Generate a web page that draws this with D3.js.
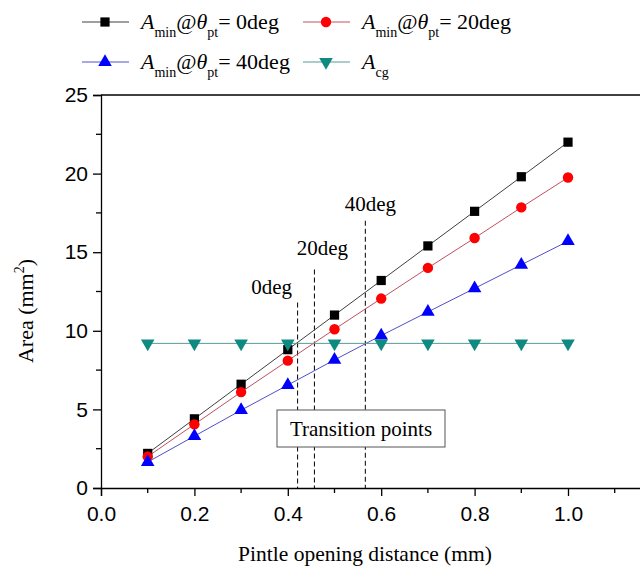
<!DOCTYPE html>
<html>
<head>
<meta charset="utf-8">
<script src="https://cdn.jsdelivr.net/npm/d3@7"></script>
<style>
  body { margin: 0; background: #fff; }
  svg { display: block; font-family: "Liberation Serif", "Times New Roman", serif; }
</style>
</head>
<body>
<div id="chart"></div>
<script>
// Chart data
const xValues = [0.1, 0.2, 0.3, 0.4, 0.5, 0.6, 0.7, 0.8, 0.9, 1.0];
const amin0 = [2.2, 4.4, 6.6, 8.8, 11.0, 13.2, 15.4, 17.6, 19.8, 22.0];
const amin20 = [2.0, 4.05, 6.1, 8.1, 10.1, 12.05, 14.0, 15.9, 17.85, 19.75];
const amin40 = [1.65, 3.3, 4.95, 6.55, 8.15, 9.7, 11.2, 12.7, 14.2, 15.7];
const acg = [9.2, 9.2, 9.2, 9.2, 9.2, 9.2, 9.2, 9.2, 9.2, 9.2];
const xTicks = [0, 0.2, 0.4, 0.6, 0.8, 1.0];
const yTicks = [0, 5, 10, 15, 20, 25];
const transitionX = [0.421, 0.457, 0.566];
const transitionTop = [11.8, 13.9, 17.0];
const transitionLabels = ['0deg', '20deg', '40deg'];

function initChart() {
  const width = 640, height = 577;
  const svg = d3.select('#chart').append('svg')
    .attr('width', width)
    .attr('height', height);

  const x = d3.scaleLinear().domain([0, 1.2]).range([101, 101 + 467 * 1.2]);
  const y = d3.scaleLinear().domain([0, 25]).range([488, 95]);

  // Series definitions
  const series = [
    { name: '0deg', values: amin0, line: '#404040', fill: '#000', shape: d3.symbolSquare, size: 85 },
    { name: '20deg', values: amin20, line: '#c05062', fill: '#ff0000', shape: d3.symbolCircle, size: 85 },
    { name: '40deg', values: amin40, line: '#5050c8', fill: '#0000ff', shape: d3.symbolTriangle, size: 80, rot: 0 },
    { name: 'cg', values: acg, line: '#5a9a96', fill: '#0f8a80', shape: d3.symbolTriangle, size: 80, rot: 180 }
  ];

  // Top frame line
  svg.append('line')
    .attr('x1', x(0)).attr('x2', width)
    .attr('y1', y(25)).attr('y2', y(25))
    .attr('stroke', '#000').attr('stroke-width', 1.3);

  // X axis
  const xAxis = svg.append('g')
    .attr('transform', `translate(0,${y(0)})`)
    .call(d3.axisBottom(x).tickValues(xTicks).tickSize(8).tickFormat(d3.format('.1f')));
  xAxis.select('.domain').attr('stroke-width', 1.3);
  xAxis.selectAll('.tick line').attr('stroke-width', 1.3);
  xAxis.selectAll('text').style('font-size', '21px').attr('dy', '1.05em').attr('fill', '#000');
  xAxis.selectAll('.minor')
    .data([0.1, 0.3, 0.5, 0.7, 0.9, 1.1])
    .enter().append('line')
    .attr('x1', d => x(d)).attr('x2', d => x(d))
    .attr('y1', 0).attr('y2', 5)
    .attr('stroke', '#000').attr('stroke-width', 1.3);

  // Y axis
  const yAxis = svg.append('g')
    .attr('transform', `translate(${x(0)},0)`)
    .call(d3.axisLeft(y).tickValues(yTicks).tickSize(8));
  yAxis.select('.domain').attr('stroke-width', 1.3);
  yAxis.selectAll('.tick line').attr('stroke-width', 1.3);
  yAxis.selectAll('text').style('font-size', '21px').attr('x', -13).attr('fill', '#000');
  yAxis.selectAll('.minor')
    .data([2.5, 7.5, 12.5, 17.5, 22.5])
    .enter().append('line')
    .attr('x1', -5).attr('x2', 0)
    .attr('y1', d => y(d)).attr('y2', d => y(d))
    .attr('stroke', '#000').attr('stroke-width', 1.3);

  // Axis titles
  svg.append('text')
    .attr('x', 365).attr('y', 561)
    .attr('text-anchor', 'middle')
    .style('font-size', '21.5px')
    .text('Pintle opening distance (mm)');

  const yTitle = svg.append('text')
    .attr('transform', 'translate(33,311) rotate(-90)')
    .attr('text-anchor', 'middle')
    .style('font-size', '22px');
  yTitle.append('tspan').text('Area (mm');
  yTitle.append('tspan').attr('dy', -9).style('font-size', '14px').text('2');
  yTitle.append('tspan').attr('dy', 9).text(')');

  // Transition dashed lines
  svg.selectAll('.trans')
    .data(transitionX)
    .enter().append('line')
    .attr('class', 'trans')
    .attr('x1', d => x(d)).attr('x2', d => x(d))
    .attr('y1', (d, i) => y(transitionTop[i])).attr('y2', y(0))
    .attr('stroke', '#000').attr('stroke-width', 1)
    .attr('stroke-dasharray', '5,3');

  // Transition labels
  const labelOffsets = [[-26, -9], [8, -14], [5, -10]];
  svg.selectAll('.trans-label')
    .data(transitionX)
    .enter().append('text')
    .attr('x', (d, i) => x(d) + labelOffsets[i][0])
    .attr('y', (d, i) => y(transitionTop[i]) + labelOffsets[i][1])
    .attr('text-anchor', 'middle')
    .style('font-size', '21px')
    .text((d, i) => transitionLabels[i]);

  // Transition points box
  svg.append('rect')
    .attr('x', 277).attr('y', 410)
    .attr('width', 168).attr('height', 37)
    .attr('fill', '#fff').attr('stroke', '#555').attr('stroke-width', 1);
  svg.append('text')
    .attr('x', 361).attr('y', 436)
    .attr('text-anchor', 'middle')
    .style('font-size', '21px')
    .text('Transition points');

  // Lines and markers
  const line = d3.line().x((d, i) => x(xValues[i])).y(d => y(d));
  series.forEach(s => {
    svg.append('path')
      .datum(s.values)
      .attr('fill', 'none')
      .attr('stroke', s.line)
      .attr('stroke-width', 1)
      .attr('d', line);
  });
  series.forEach(s => {
    svg.selectAll(null)
      .data(s.values)
      .enter().append('path')
      .attr('d', d3.symbol().type(s.shape).size(s.size))
      .attr('transform', (d, i) => `translate(${x(xValues[i])},${y(d)}) rotate(${s.rot || 0})`)
      .attr('fill', s.fill);
  });

  // Legend
  const legendPos = [[82, 22], [303, 22], [82, 62], [303, 62]];
  series.forEach((s, i) => {
    const g = svg.append('g').attr('transform', `translate(${legendPos[i][0]},${legendPos[i][1]})`);
    g.append('line').attr('x1', 0).attr('x2', 47).attr('y1', 0).attr('y2', 0)
      .attr('stroke', s.line).attr('stroke-width', 1);
    g.append('path')
      .attr('d', d3.symbol().type(s.shape).size(s.size))
      .attr('transform', `translate(23,0) rotate(${s.rot || 0})`)
      .attr('fill', s.fill);
    const t = g.append('text').attr('x', 59).attr('y', 7).style('font-size', '22px');
    t.append('tspan').style('font-style', 'italic').text('A');
    if (s.name === 'cg') {
      t.append('tspan').attr('dy', 8).style('font-size', '14px').text('cg');
    } else {
      t.append('tspan').attr('dy', 8).style('font-size', '14px').text('min');
      t.append('tspan').attr('dy', -8).text('@');
      t.append('tspan').style('font-style', 'italic').text('θ');
      t.append('tspan').attr('dy', 8).style('font-size', '14px').text('pt');
      t.append('tspan').attr('dy', -8).text('= ' + s.name);
    }
  });
}

initChart();
</script>
</body>
</html>
